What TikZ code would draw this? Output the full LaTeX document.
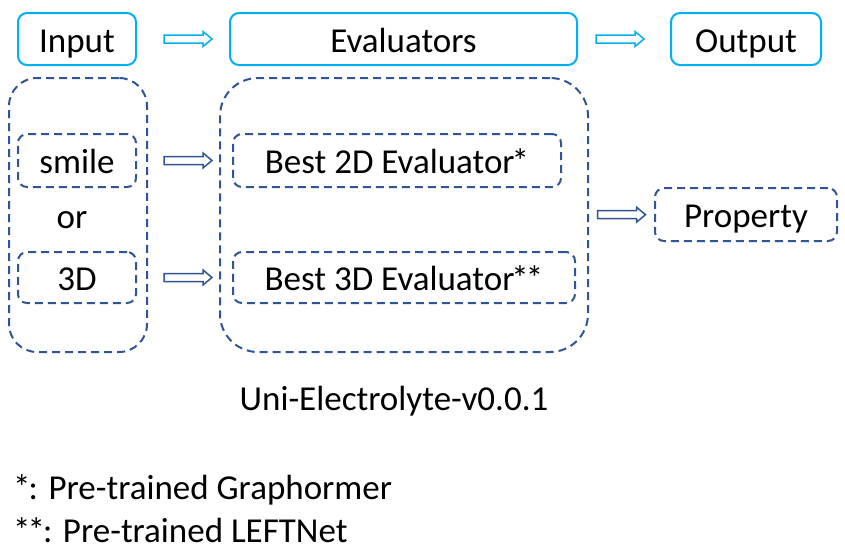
\documentclass[tikz,border=0pt]{standalone}
\usepackage{fontspec}
\setmainfont{Carlito}
\usepackage{tikz}
\usetikzlibrary{arrows.meta}
\usetikzlibrary{scopes}

\definecolor{skyblue}{HTML}{00B0F0}
\definecolor{navyblue}{HTML}{2F5597}
\newcommand{\st}{\kern-3pt*}

\tikzset{
    blockarrow/.pic={
        \path[pic actions,line width=1.5pt,fill=white,line join=miter]
            (-24,-4) -- (15,-4) -- (15,-7.5) -- (24,0) -- (15,7.5) -- (15,4) -- (-24,4) -- cycle;
    }
}

\begin{document}
\begin{tikzpicture}[x=1pt,y=-1pt,font=\fontsize{35}{42}\selectfont]
\useasboundingbox (0,0) rectangle (845,558);

% top row
\begin{scope}[every node/.style={draw=skyblue,line width=2pt,rounded corners=9pt,minimum height=52pt,
              inner sep=0pt,text height=30pt,text depth=4pt}]
    \node[minimum width=118pt] (In) at (77,39) {Input};
    \node[minimum width=347pt] (Ev) at (403.5,39) {Evaluators};
    \node[minimum width=150pt] (Out) at (746,39) {Output};
\end{scope}

% dashed groups
\begin{scope}[every node/.style={draw=navyblue,line width=2pt,dash pattern=on 8pt off 5pt,inner sep=0pt,
              text height=30pt,text depth=4pt}]
    \node[minimum width=138pt,minimum height=274pt,rounded corners=28pt] (G1) at (78,215) {};
    \node[minimum width=368pt,minimum height=274pt,rounded corners=38pt] (G2) at (404,215) {};
    \node[minimum width=118pt,minimum height=53pt,rounded corners=9pt] (S) at (77,160.5) {smile};
    \node[minimum width=118pt,minimum height=51pt,rounded corners=9pt] (D) at (77,277.5) {3D};
    \node[minimum width=328pt,minimum height=53pt,rounded corners=9pt] (B2) at (397,160.5) {Best 2D Evaluator\st};
    \node[minimum width=342pt,minimum height=51pt,rounded corners=9pt] (B3) at (404,277.5) {Best 3D Evaluator\st\st};
    \node[minimum width=182pt,minimum height=53pt,rounded corners=9pt] (P) at (746,214.5) {Property};
\end{scope}

\node[text height=30pt,text depth=4pt] (or) at (72,215) {or};

% block arrows
\path (In) -- coordinate[xshift=5pt] (a1) (Ev);
\path (Ev) -- coordinate[xshift=-4pt] (a2) (Out);
\path (S) -- coordinate[xshift=3.5pt] (a3) (B2);
\path (D) -- coordinate[xshift=3.5pt] (a4) (B3);
\path (G2) -- coordinate (a5) (P);
\pic[draw=skyblue] at (a1) {blockarrow};
\pic[draw=skyblue] at (a2) {blockarrow};
\pic[draw=navyblue] at (a3) {blockarrow};
\pic[draw=navyblue] at (a4) {blockarrow};
\pic[draw=navyblue] at (a5) {blockarrow};

\node (name) at (394,401) {Uni-Electrolyte-v0.0.1};
\node[anchor=west,inner sep=0pt] (n1) at (13,490) {*\kern-2pt: Pre-trained Graphormer};
\node[anchor=west,inner sep=0pt] (n2) at (13,530) {*\st\kern-2pt: Pre-trained LEFTNet};
\end{tikzpicture}
\end{document}
